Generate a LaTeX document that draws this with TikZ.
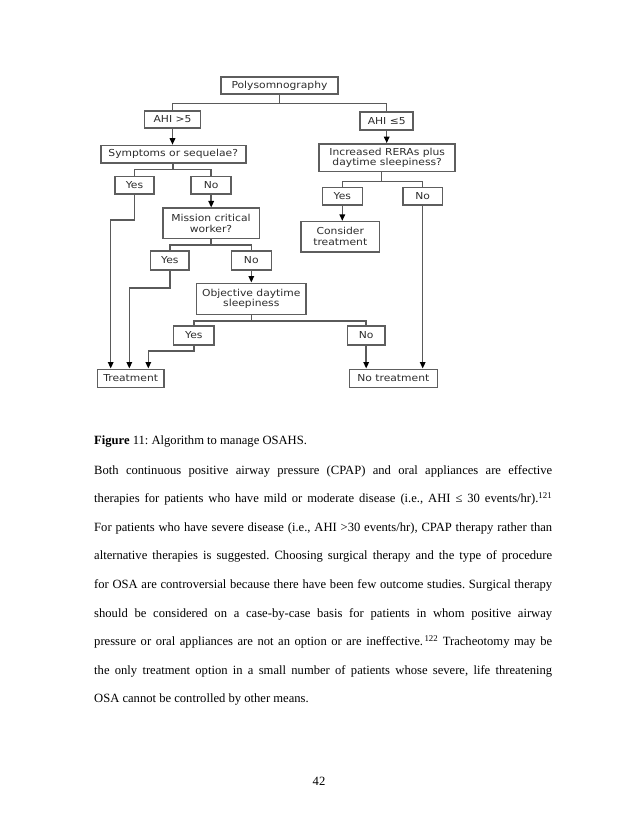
\documentclass[tikz,border=0pt]{standalone}
\usepackage{fontspec}
\setmainfont{Liberation Serif}
\newfontfamily\chartfont[FakeStretch=1.12]{DejaVu Sans}
\usepackage{xcolor}
\usepackage{tikz}
\usetikzlibrary{shapes,arrows,arrows.meta,positioning}
\usetikzlibrary{calc}
\frenchspacing
\definecolor{boxgray}{HTML}{5E5E5E}
\definecolor{linkgray}{HTML}{5A5A5A}
\definecolor{chartgray}{HTML}{2C2C2C}
\tikzstyle{box} = [rectangle, draw=boxgray, line width=1.6pt, fill=white,
    text=chartgray, font=\chartfont\fontsize{9.6}{10.6}\selectfont,
    align=center, inner sep=0pt, minimum height=17.5pt]
\tikzstyle{tall} = [box, minimum height=30pt]
\tikzstyle{link} = [draw=linkgray, line width=1.5pt]
\tikzstyle{line} = [link, -{Triangle[length=6.5pt, width=5.5pt, color=black]}]
\tikzstyle{body} = [anchor=base west, inner sep=0pt,
    font=\fontsize{12.6}{14}\selectfont]
\newcommand{\fullline}[1]{\makebox[458pt][s]{#1}}

\begin{document}
\begin{tikzpicture}[x=1pt, y=-1pt]
        \fill[white] (0,0) rectangle (638,826);
        \useasboundingbox (0,0) rectangle (638,826);

        % Decisions
        \node [box, minimum width=117pt] (poly) at (279.5,85.5) {Polysomnography};
        \node [box, minimum width=56pt] (ahiA) at (172.5,119.5) {AHI >5};
        \node [box, minimum width=53pt] (ahiB) at (386.7,121) {AHI ≤5};
        \node [box, minimum width=145pt] (sympt) at (173.2,154.3) {Symptoms or sequelae?};
        \node [tall, minimum width=136pt, minimum height=27.7pt] (incr) at (387.2,157.8) {Increased RERAs plus\\daytime sleepiness?};
        \node [box, minimum width=39pt] (yesA) at (134.5,185.3) {Yes};
        \node [box, minimum width=40pt] (noA) at (211.2,185.3) {No};
        \node [box, minimum width=40pt] (yesB) at (342.3,196.2) {Yes};
        \node [box, minimum width=39.3pt] (noB) at (422.7,196.2) {No};
        \node [tall, minimum width=96.6pt] (mission) at (211,223.3) {Mission critical\\worker?};
        \node [tall, minimum width=78.7pt] (consider) at (340.3,236.7) {Consider\\treatment};
        \node [box, minimum width=38.3pt, minimum height=19pt] (yesC) at (169.8,260.5) {Yes};
        \node [box, minimum width=40pt, minimum height=19pt] (noC) at (251.3,260.5) {No};
        \node [tall, minimum width=109.3pt, minimum height=31pt] (objective) at (251.3,298.8) {Objective daytime\\sleepiness};
        \node [box, minimum width=40.7pt, minimum height=19pt] (yesD) at (193.9,335.5) {Yes};
        \node [box, minimum width=37.7pt, minimum height=19pt] (noD) at (366.2,335.5) {No};

        % Outcomes
        \node [box, minimum width=66.7pt, minimum height=18pt] (treat) at (130.7,378.3) {Treatment};
        \node [box, minimum width=88pt, minimum height=18pt] (notreat) at (393.3,378.3) {No treatment};

        % Forks
        \path [link] (poly.south) -- ++(0,8.7) -| (ahiA.north);
        \path [link] (poly.south) -- ++(0,8.7) -| (ahiB.north);
        \path [link] (sympt.south) -- ++(0,5.6) -| (yesA.north);
        \path [link] (sympt.south) -- ++(0,5.6) -| (noA.north);
        \path [link] ([xshift=-5.5pt]incr.south) -- ++(0,9) -| (yesB.north);
        \path [link] ([xshift=-5.5pt]incr.south) -- ++(0,9) -| (noB.north);
        \path [link] (mission.south) -- ++(0,5.7) -| (yesC.north);
        \path [link] (mission.south) -- ++(0,5.7) -| (noC.north);
        \path [link] (objective.south) -- ++(0,5.7) -| (yesD.north);
        \path [link] (objective.south) -- ++(0,5.7) -| (noD.north);

        % Connections
        \path [line] (ahiA.south) -- (ahiA.south |- sympt.north);
        \path [line] (ahiB.south) -- (ahiB.south |- incr.north);
        \path [line] (noA.south) -- (noA.south |- mission.north);
        \path [line] (noC.south) -- (noC.south |- objective.north);
        \path [line] (yesB.south) -- (yesB.south |- consider.north);
        \path [line] (yesA.south) -- ++(0,25) -| ([xshift=-20pt]treat.north);
        \path [line] (yesC.south) -- ++(0,17.3) -| ([xshift=-1.4pt]treat.north);
        \path [line] (yesD.south) -- ++(0,5) -| ([xshift=17.6pt]treat.north);
        \path [line] (noD.south) -- (noD.south |- notreat.north);
        \path [line] (noB.south) -- (noB.south |- notreat.north);

        % Caption and text
        \node [body] (cap) at (94,444.7) {\textbf{Figure} 11: Algorithm to manage OSAHS.};
        \node [body] (l1) at (94,474) {\fullline{Both continuous positive airway pressure (CPAP) and oral appliances are effective}};
        \node [body] (l2) at (94,502.6) {\fullline{therapies for patients who have mild or moderate disease (i.e., AHI ≤ 30 events/hr).\textsuperscript{121}}};
        \node [body] (l3) at (94,531.2) {\fullline{For patients who have severe disease (i.e., AHI >30 events/hr), CPAP therapy rather than}};
        \node [body] (l4) at (94,559.8) {\fullline{alternative therapies is suggested. Choosing surgical therapy and the type of procedure}};
        \node [body] (l5) at (94,588.4) {\fullline{for OSA are controversial because there have been few outcome studies. Surgical therapy}};
        \node [body] (l6) at (94,617) {\fullline{should be considered on a case-by-case basis for patients in whom positive airway}};
        \node [body] (l7) at (94,645.6) {\fullline{pressure or oral appliances are not an option or are ineffective.\textsuperscript{\,122} Tracheotomy may be}};
        \node [body] (l8) at (94,674.2) {\fullline{the only treatment option in a small number of patients whose severe, life threatening}};
        \node [body] (l9) at (94,702.8) {OSA cannot be controlled by other means.};
        \node [anchor=base, inner sep=0pt, font=\fontsize{12.6}{14}\selectfont] (pg) at (319,785) {42};
    \end{tikzpicture}
\end{document}
